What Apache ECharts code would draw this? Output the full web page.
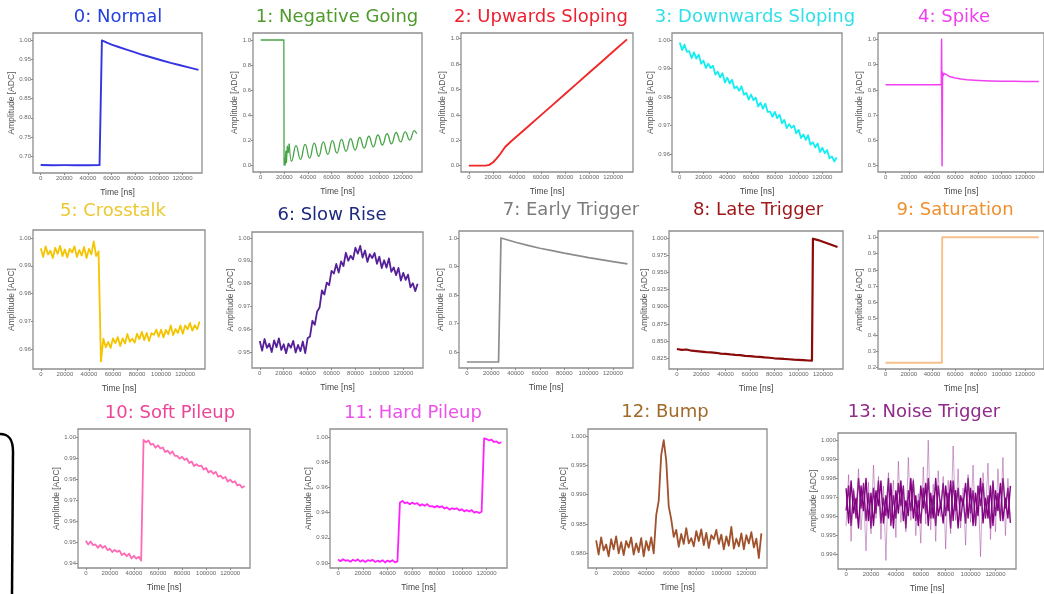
<!DOCTYPE html>
<html>
<head>
<meta charset="utf-8">
<script src="https://cdn.jsdelivr.net/npm/echarts@6/dist/echarts.min.js"></script>
<style>
  html, body { margin: 0; padding: 0; background: #ffffff; }
  #chart { width: 1044px; height: 594px; }
</style>
</head>
<body>
<div id="chart"></div>
<script>
// ---------------------------------------------------------------
// Waveform classes: amplitude (normalised ADC) versus time (ns)
// ---------------------------------------------------------------

// Sample spacing of the digitised (noisy) traces, in ns
const T_STEP = 2000;

// Shared time-axis tick labels
const xTickLabels = ['0', '20000', '40000', '60000', '80000', '100000', '120000'];

// Amplitude tick labels of each panel
const yTicks0  = ['0.70', '0.75', '0.80', '0.85', '0.90', '0.95', '1.00'];
const yTicks1  = ['0.0', '0.2', '0.4', '0.6', '0.8', '1.0'];
const yTicks2  = ['0.0', '0.2', '0.4', '0.6', '0.8', '1.0'];
const yTicks3  = ['0.96', '0.97', '0.98', '0.99', '1.00'];
const yTicks4  = ['0.5', '0.6', '0.7', '0.8', '0.9', '1.0'];
const yTicks5  = ['0.96', '0.97', '0.98', '0.99', '1.00'];
const yTicks6  = ['0.95', '0.96', '0.97', '0.98', '0.99', '1.00'];
const yTicks7  = ['0.6', '0.7', '0.8', '0.9', '1.0'];
const yTicks8  = ['0.825', '0.850', '0.875', '0.900', '0.925', '0.950', '0.975', '1.000'];
const yTicks9  = ['0.2', '0.3', '0.4', '0.5', '0.6', '0.7', '0.8', '0.9', '1.0'];
const yTicks10 = ['0.94', '0.95', '0.96', '0.97', '0.98', '0.99', '1.00'];
const yTicks11 = ['0.90', '0.92', '0.94', '0.96', '0.98', '1.00'];
const yTicks12 = ['0.980', '0.985', '0.990', '0.995', '1.000'];
const yTicks13 = ['0.994', '0.995', '0.996', '0.997', '0.998', '0.999', '1.000'];

// Panel titles
const titles = ['0: Normal', '1: Negative Going', '2: Upwards Sloping', '3: Downwards Sloping',
  '4: Spike', '5: Crosstalk', '6: Slow Rise', '7: Early Trigger', '8: Late Trigger',
  '9: Saturation', '10: Soft Pileup', '11: Hard Pileup', '12: Bump', '13: Noise Trigger'];

// ---- clean traces: [time ns, amplitude] ----
const normalTrace = [[0,0.6785],[10000,0.6780],[20000,0.6782],[30000,0.6778],[40000,0.6780],[49800,0.6782],
  [51800,0.999],[56000,0.993],[60000,0.988],[66000,0.982],[72000,0.976],[78000,0.970],[86000,0.962],
  [94000,0.955],[102000,0.948],[110000,0.941],[118000,0.935],[126000,0.929],[133500,0.923]];

const negativeStep = [[0,1.0],[19600,1.0],[19800,0.0],[20300,0.05],[20700,0.0],[21300,0.11],[21800,0.02],
  [22500,0.15],[23300,0.10],[24200,0.17]];
const negativeRinging = [[24200,0.17],[26000,0.03],[29900,0.155],[33700,0.045],[37600,0.165],[41400,0.055],
  [45300,0.175],[49100,0.07],[53000,0.185],[56800,0.085],[60700,0.195],[64500,0.095],[68400,0.205],
  [72200,0.11],[76100,0.21],[79900,0.12],[83800,0.22],[87600,0.135],[91500,0.23],[95300,0.145],
  [99200,0.24],[103000,0.16],[106900,0.25],[110700,0.17],[114600,0.26],[118400,0.185],[122300,0.265],
  [126100,0.20],[130000,0.275],[132000,0.25]];

const upwardTrace = [[0,0.0],[14000,0.0],[17000,0.006],[20000,0.025],[23000,0.055],[26000,0.09],[30000,0.145],
  [35000,0.19],[40000,0.232],[50000,0.315],[60000,0.398],[70000,0.481],[80000,0.565],[90000,0.648],
  [100000,0.732],[110000,0.815],[120000,0.899],[131500,0.995]];

const spikeTrace = [[0,0.820],[48000,0.820],[48300,1.0],[48700,0.5],[49100,0.87],[49600,0.855],[50500,0.865],
  [52000,0.860],[55000,0.853],[60000,0.847],[65000,0.843],[70000,0.840],[80000,0.837],[90000,0.835],
  [100000,0.834],[110000,0.834],[120000,0.833],[132000,0.833]];

const earlyTrace = [[0,0.565],[26000,0.565],[28000,1.0],[40000,0.985],[50000,0.974],[60000,0.964],
  [70000,0.956],[80000,0.947],[90000,0.939],[100000,0.931],[110000,0.924],[120000,0.917],[132000,0.909]];

const lateTrace = [[0,0.8385],[4000,0.8372],[8000,0.8378],[12000,0.8360],[16000,0.8355],[20000,0.8348],
  [24000,0.8340],[28000,0.8336],[32000,0.8330],[36000,0.8318],[40000,0.8315],[44000,0.8306],[48000,0.8300],
  [52000,0.8296],[56000,0.8285],[60000,0.8282],[64000,0.8275],[68000,0.8270],[72000,0.8262],[76000,0.8258],
  [80000,0.8250],[84000,0.8246],[88000,0.8240],[92000,0.8236],[96000,0.8230],[100000,0.8226],[104000,0.8222],
  [108000,0.8218],[111000,0.8215],[111800,0.9990],[116000,0.9970],[120000,0.9945],[124000,0.9920],
  [128000,0.9895],[132000,0.9870]];

const saturationTrace = [[0,0.23],[48500,0.23],[48800,1.0],[132000,1.0]];

const downSlope = [0.9992,0.9965,0.9984,0.9959,0.9961,0.9937,0.9957,0.9935,0.9949,0.9917,
  0.9928,0.9902,0.9917,0.9902,0.9910,0.9879,0.9889,0.9869,0.9884,0.9851,
  0.9868,0.9848,0.9861,0.9831,0.9837,0.9822,0.9838,0.9808,0.9815,0.9791,
  0.9809,0.9789,0.9798,0.9767,0.9780,0.9759,0.9777,0.9748,0.9749,0.9731,
  0.9748,0.9726,0.9738,0.9708,0.9720,0.9691,0.9705,0.9692,0.9700,0.9673,
  0.9685,0.9656,0.9669,0.9650,0.9666,0.9633,0.9642,0.9623,0.9637,0.9607,
  0.9622,0.9603,0.9614,0.9585,0.9592,0.9574,0.9588];

const crosstalk = [0.9963,0.9932,0.9970,0.9941,0.9954,0.9928,0.9965,0.9943,0.9972,0.9935,
  0.9959,0.9930,0.9961,0.9948,0.9970,0.9932,0.9957,0.9937,0.9968,0.9928,
  0.9961,0.9941,0.9988,0.9935,0.9952,0.9555,0.9637,0.9606,0.9626,0.9604,
  0.9638,0.9621,0.9643,0.9611,0.9638,0.9620,0.9654,0.9626,0.9637,0.9623,
  0.9655,0.9636,0.9662,0.9632,0.9658,0.9629,0.9657,0.9651,0.9670,0.9644,
  0.9670,0.9642,0.9669,0.9653,0.9685,0.9650,0.9672,0.9658,0.9685,0.9655,
  0.9685,0.9671,0.9694,0.9666,0.9686,0.9671,0.9699];

const slowRise = [0.9548,0.9506,0.9557,0.9518,0.9536,0.9500,0.9551,0.9521,0.9560,0.9509,
  0.9534,0.9495,0.9537,0.9519,0.9549,0.9498,0.9531,0.9504,0.9546,0.9495,
  0.9560,0.9568,0.9637,0.9619,0.9678,0.9695,0.9770,0.9752,0.9804,0.9793,
  0.9856,0.9844,0.9886,0.9848,0.9897,0.9877,0.9935,0.9900,0.9922,0.9906,
  0.9957,0.9931,0.9965,0.9914,0.9945,0.9895,0.9929,0.9912,0.9934,0.9887,
  0.9918,0.9868,0.9902,0.9870,0.9910,0.9851,0.9871,0.9837,0.9869,0.9813,
  0.9847,0.9816,0.9839,0.9784,0.9801,0.9767,0.9799];

const softPileup = [0.9506,0.9488,0.9502,0.9485,0.9488,0.9472,0.9486,0.9472,0.9481,0.9461,
  0.9468,0.9452,0.9462,0.9453,0.9459,0.9438,0.9446,0.9433,0.9444,0.9422,
  0.9434,0.9421,0.9430,0.9411,0.9986,0.9975,0.9984,0.9963,0.9967,0.9949,
  0.9960,0.9945,0.9950,0.9928,0.9935,0.9920,0.9931,0.9910,0.9910,0.9897,
  0.9906,0.9891,0.9898,0.9876,0.9883,0.9862,0.9870,0.9861,0.9864,0.9845,
  0.9852,0.9831,0.9839,0.9825,0.9834,0.9811,0.9816,0.9802,0.9810,0.9788,
  0.9797,0.9784,0.9789,0.9769,0.9773,0.9759,0.9767];

const hardPileup = [0.9028,0.9014,0.9030,0.9017,0.9022,0.9010,0.9026,0.9016,0.9029,0.9011,
  0.9022,0.9008,0.9022,0.9016,0.9025,0.9008,0.9018,0.9009,0.9022,0.9004,
  0.9019,0.9009,0.9022,0.9005,0.9013,0.9480,0.9492,0.9474,0.9480,0.9466,
  0.9479,0.9468,0.9475,0.9455,0.9466,0.9453,0.9467,0.9449,0.9451,0.9441,
  0.9453,0.9441,0.9450,0.9432,0.9441,0.9423,0.9434,0.9427,0.9434,0.9417,
  0.9426,0.9409,0.9419,0.9408,0.9420,0.9400,0.9407,0.9396,0.9407,0.9988,
  0.9983,0.9972,0.9978,0.9960,0.9965,0.9950,0.9958];

const bump = [0.9822,0.9798,0.9827,0.9805,0.9815,0.9795,0.9824,0.9807,0.9829,0.9800,
  0.9819,0.9797,0.9821,0.9810,0.9827,0.9798,0.9817,0.9802,0.9826,0.9795,
  0.9821,0.9805,0.9827,0.9800,0.9865,0.9890,0.9968,0.9993,0.9958,0.9880,
  0.9858,0.9828,0.9840,0.9811,0.9833,0.9816,0.9843,0.9817,0.9826,0.9812,
  0.9838,0.9821,0.9841,0.9814,0.9835,0.9809,0.9831,0.9824,0.9840,0.9816,
  0.9832,0.9807,0.9829,0.9813,0.9845,0.9808,0.9825,0.9812,0.9834,0.9807,
  0.9831,0.9817,0.9836,0.9810,0.9825,0.9792,0.9834];

const noiseCore = [0.99746,0.99564,0.99785,0.99616,0.99694,0.99538,0.99759,0.99629,0.99798,0.99577,
  0.99720,0.99551,0.99733,0.99655,0.99785,0.99564,0.99707,0.99590,0.99772,0.99538,
  0.99733,0.99616,0.99785,0.99577,0.99681,0.99603,0.99798,0.99590,0.99707,0.99551,
  0.99759,0.99642,0.99772,0.99551,0.99720,0.99590,0.99798,0.99603,0.99668,0.99564,
  0.99759,0.99629,0.99785,0.99577,0.99733,0.99538,0.99707,0.99655,0.99772,0.99590,
  0.99746,0.99551,0.99720,0.99603,0.99798,0.99564,0.99694,0.99590,0.99759,0.99551,
  0.99733,0.99629,0.99772,0.99577,0.99694,0.99590,0.99759];

const noiseCore2 = [0.99629,0.99759,0.99551,0.99733,0.99590,0.99798,0.99642,0.99772,0.99577,0.99720,
  0.99538,0.99746,0.99616,0.99785,0.99564,0.99694,0.99603,0.99798,0.99551,0.99707,
  0.99590,0.99772,0.99655,0.99759,0.99538,0.99733,0.99629,0.99785,0.99577,0.99681,
  0.99564,0.99746,0.99616,0.99798,0.99590,0.99707,0.99551,0.99759,0.99642,0.99772,
  0.99603,0.99720,0.99538,0.99785,0.99629,0.99746,0.99577,0.99694,0.99564,0.99798,
  0.99616,0.99733,0.99551,0.99759,0.99655,0.99772,0.99590,0.99707,0.99538,0.99785,
  0.99603,0.99720,0.99577,0.99798,0.99642,0.99746,0.99564];

const noiseSpikes = [0.99548,0.99818,0.99468,0.99748,0.99618,0.99848,0.99528,0.99728,0.99418,0.99778,
  0.99508,0.99868,0.99588,0.99808,0.99478,0.99758,0.99368,0.99828,0.99608,0.99788,
  0.99488,0.99888,0.99568,0.99738,0.99518,0.99908,0.99578,0.99798,0.99498,0.99718,
  0.99458,0.99858,0.99558,0.99998,0.99528,0.99768,0.99468,0.99838,0.99598,0.99808,
  0.99428,0.99788,0.99508,0.99968,0.99578,0.99848,0.99538,0.99748,0.99448,0.99818,
  0.99568,0.99868,0.99548,0.99758,0.99388,0.99828,0.99608,0.99878,0.99478,0.99778,
  0.99518,0.99848,0.99588,0.99908,0.99498,0.99798,0.99568];

// ---------------------------------------------------------------
function sampled(values) {
  return values.map(function (v, i) { return [i * T_STEP, v]; });
}

// Layout: plot box [left, top, right, bottom], amplitude range, title centre
const panels = [
  { box: [33, 33, 202, 173],   y: [0.658, 1.018],   ticks: yTicks0,  tc: [118, 17],  titleColor: '#2440e0',
    lines: [{ data: normalTrace, color: '#3434e2', width: 1.9 }] },
  { box: [253, 33, 422, 172],  y: [-0.056, 1.056],  ticks: yTicks1,  tc: [337, 17],  titleColor: '#4e9a2a',
    lines: [{ data: negativeStep, color: '#47a447', width: 1.3 },
            { data: negativeRinging, color: '#47a447', width: 1.3, smooth: 0.5 }] },
  { box: [461, 33, 633, 172],  y: [-0.05, 1.045],   ticks: yTicks2,  tc: [541, 17],  titleColor: '#ee2030',
    lines: [{ data: upwardTrace, color: '#f02828', width: 1.9 }] },
  { box: [672, 33, 842, 172],  y: [0.9537, 1.0025], ticks: yTicks3,  tc: [755, 17],  titleColor: '#30e0e8',
    lines: [{ data: sampled(downSlope), color: '#14eef2', width: 1.8 }] },
  { box: [878, 33, 1054, 172], y: [0.475, 1.025],   ticks: yTicks4,  tc: [954, 17],  titleColor: '#ee40ee',
    lines: [{ data: spikeTrace, color: '#f040f0', width: 1.5 }] },
  { box: [33, 230, 205, 369],  y: [0.9528, 1.0029], ticks: yTicks5,  tc: [113, 211], titleColor: '#ecc830',
    lines: [{ data: sampled(crosstalk), color: '#f5c400', width: 1.8 }] },
  { box: [252, 232, 423, 368], y: [0.943, 1.0026],  ticks: yTicks6,  tc: [332, 215], titleColor: '#1c2a80',
    lines: [{ data: sampled(slowRise), color: '#55209a', width: 1.8 }] },
  { box: [459, 231, 633, 368], y: [0.544, 1.0246],  ticks: yTicks7,  tc: [571, 210], titleColor: '#7c7c7c',
    lines: [{ data: earlyTrace, color: '#8c8c8c', width: 1.7 }] },
  { box: [669, 231, 843, 369], y: [0.8094, 1.0102], ticks: yTicks8,  tc: [758, 210], titleColor: '#a0181c',
    lines: [{ data: lateTrace, color: '#8b0a0a', width: 2.2 }] },
  { box: [878, 231, 1054, 369], y: [0.1915, 1.0385], ticks: yTicks9, tc: [955, 210], titleColor: '#f0902c',
    lines: [{ data: saturationTrace, color: '#f8c088', width: 1.9 }] },
  { box: [78, 429, 250, 568],  y: [0.9376, 1.0038], ticks: yTicks10, tc: [170, 413], titleColor: '#ee4496',
    lines: [{ data: sampled(softPileup), color: '#ff6ab4', width: 1.8 }] },
  { box: [330, 429, 507, 568], y: [0.896, 1.0063],  ticks: yTicks11, tc: [413, 413], titleColor: '#ee50ee',
    lines: [{ data: sampled(hardPileup), color: '#ff20ff', width: 1.8 }] },
  { box: [588, 429, 767, 568], y: [0.9775, 1.0012], ticks: yTicks12, tc: [665, 412], titleColor: '#a06a28',
    lines: [{ data: sampled(bump), color: '#a0522d', width: 1.8 }] },
  { box: [838, 433, 1016, 572], y: [0.99323, 1.00036], ticks: yTicks13, tc: [924, 412], titleColor: '#902a88',
    lines: [{ data: sampled(noiseSpikes), color: 'rgba(150,50,150,0.45)', width: 1.0 },
            { data: sampled(noiseCore2), color: '#8a1a8a', width: 1.4 },
            { data: sampled(noiseCore), color: '#800080', width: 1.4 }] }
];

const TICK_FONT = "'Liberation Sans', Arial, sans-serif";
const xTickValues = xTickLabels.map(Number);
// distance of the rotated axis name from the plot box, by tick-label width
const Y_NAME_GAP = { 3: 14, 4: 17, 5: 20 };

const grids = [], xAxes = [], yAxes = [], series = [], graphics = [];

panels.forEach(function (p, i) {
  const [l, t, r, b] = p.box;
  grids.push({ left: l, top: t, width: r - l, height: b - t, show: true,
               borderColor: '#8e8e8e', borderWidth: 1.3, backgroundColor: 'transparent' });

  xAxes.push({
    gridIndex: i, type: 'value', min: -6500, max: 136500,
    axisLine: { show: false, onZero: false },
    splitLine: { show: false },
    axisTick: { show: true, length: 2, customValues: xTickValues, lineStyle: { color: '#888', width: 1 } },
    axisLabel: { customValues: xTickValues, formatter: function (v) { return String(v); },
                 hideOverlap: false, showMinLabel: true, showMaxLabel: true,
                 fontSize: 6, color: '#666', margin: 2, fontFamily: TICK_FONT },
    name: 'Time [ns]', nameLocation: 'middle', nameGap: 15, nameMoveOverlap: false,
    nameTextStyle: { fontSize: 8.5, color: '#444', fontFamily: TICK_FONT }
  });

  const tickVals = p.ticks.map(Number);
  const decimals = p.ticks[0].split('.')[1].length;
  yAxes.push({
    gridIndex: i, type: 'value', min: p.y[0], max: p.y[1],
    axisLine: { show: false, onZero: false },
    splitLine: { show: false },
    axisTick: { show: true, length: 2, customValues: tickVals, lineStyle: { color: '#888', width: 1 } },
    axisLabel: { customValues: tickVals, formatter: function (v) { return Number(v).toFixed(decimals); },
                 hideOverlap: false, showMinLabel: true, showMaxLabel: true,
                 fontSize: 6, color: '#666', margin: 2, fontFamily: TICK_FONT },
    name: 'Amplitude [ADC]', nameLocation: 'middle', nameGap: Y_NAME_GAP[p.ticks[0].length],
    nameRotate: 90, nameMoveOverlap: false,
    nameTextStyle: { fontSize: 8.5, color: '#555', fontFamily: TICK_FONT }
  });

  p.lines.forEach(function (ln) {
    series.push({
      type: 'line', xAxisIndex: i, yAxisIndex: i, data: ln.data,
      symbol: 'none', showSymbol: false, silent: true,
      smooth: ln.smooth || false, smoothMonotone: 'x',
      lineStyle: { color: ln.color, width: ln.width, join: 'round' }
    });
  });

  graphics.push({
    type: 'text', x: p.tc[0], y: p.tc[1], silent: true,
    style: { text: titles[i], fill: p.titleColor, font: "18px 'DejaVu Sans', Verdana, sans-serif",
             textAlign: 'center', textVerticalAlign: 'middle' }
  });
});

// hand-drawn bracket at the lower left edge
graphics.push({
  type: 'bezierCurve', silent: true,
  shape: { x1: 0, y1: 434, cpx1: 8, cpy1: 434, cpx2: 13, cpy2: 438, x2: 13, y2: 452 },
  style: { stroke: '#000000', lineWidth: 2.5, fill: null }
});
graphics.push({
  type: 'line', silent: true,
  shape: { x1: 13, y1: 452, x2: 12, y2: 594 },
  style: { stroke: '#000000', lineWidth: 2.5 }
});

const chart = echarts.init(document.getElementById('chart'), null, { renderer: 'canvas' });
chart.setOption({
  animation: false,
  backgroundColor: '#ffffff',
  grid: grids,
  xAxis: xAxes,
  yAxis: yAxes,
  series: series,
  graphic: graphics
});
</script>
</body>
</html>
